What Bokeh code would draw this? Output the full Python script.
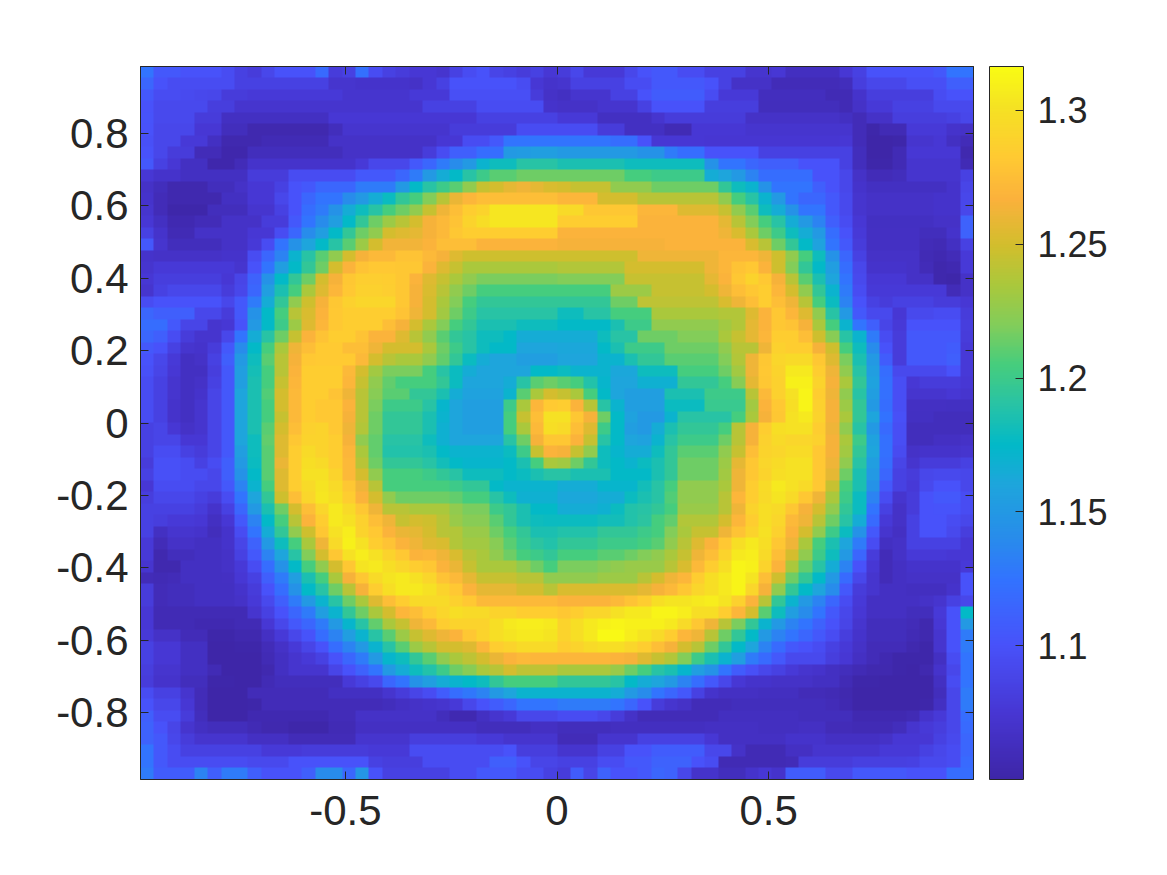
import numpy as np
from bokeh.embed import file_html
from bokeh.resources import INLINE
from bokeh.plotting import figure
from bokeh.models import LinearColorMapper, ColorBar, FixedTicker, LinearAxis, Range1d

# heat values, thousandths above 1.0, top row first
r00 = [125,105,105,100,100,100,95,85,80,90,100,100,100,118,80,85,122,95,85,80,75,75,72,85,95,100,88,85,80,85,75,
       80,90,78,78,78,90,100,105,105,95,95,85,85,85,72,72,75,64,64,64,64,75,85,100,100,100,100,100,105,125,125]
r01 = [115,100,95,95,95,95,95,85,85,85,85,85,85,85,72,72,70,70,70,70,68,75,85,100,100,100,100,100,95,75,70,
       72,85,85,85,85,95,95,105,105,105,105,100,85,68,68,68,60,60,60,60,60,62,82,90,90,90,97,97,97,110,110]
r02 = [105,95,95,93,91,90,80,80,78,78,78,78,78,78,78,72,72,72,72,72,78,78,78,97,97,97,97,97,97,80,68,
       65,72,72,72,85,85,100,108,108,108,108,95,78,78,78,63,63,63,63,63,58,58,70,82,82,82,82,82,95,100,100]
r03 = [100,92,92,92,92,82,82,72,72,72,72,72,72,72,72,72,72,72,72,72,72,85,85,85,85,95,95,95,95,95,70,
       68,68,68,72,72,72,85,100,100,100,100,82,82,82,82,62,62,62,62,62,62,58,68,78,78,85,85,85,92,92,92]
r04 = [102,92,92,92,80,80,65,65,65,65,65,65,65,65,76,76,76,76,76,76,76,76,76,76,76,85,85,85,85,85,85,
       78,78,78,65,65,65,65,72,80,80,80,80,80,80,68,68,68,68,68,68,68,65,60,68,68,82,82,82,82,85,90]
r05 = [100,90,90,90,75,75,62,62,55,55,55,55,55,55,62,72,72,72,72,72,72,72,72,80,80,80,80,80,95,95,95,
       95,95,95,80,80,65,65,65,58,58,75,75,75,75,72,72,72,72,72,72,72,72,60,52,58,58,78,78,78,70,68]
r06 = [98,90,90,78,78,65,55,55,55,58,58,58,58,58,68,68,68,68,68,68,68,68,75,75,95,95,105,125,125,125,125,
       125,125,125,125,120,120,100,75,75,75,75,74,74,74,74,74,74,74,74,74,74,75,60,50,50,52,72,72,75,65,60]
r07 = [100,90,80,80,60,60,53,53,62,62,62,62,62,62,62,68,68,68,68,68,68,80,95,110,110,120,120,150,152,155,155,
       150,150,150,150,150,150,145,145,130,120,120,100,100,100,100,85,85,85,85,85,85,85,62,50,50,58,75,75,75,75,55]
r08 = [105,85,75,65,65,53,53,60,70,70,70,70,70,70,70,70,78,90,90,90,105,115,130,140,150,170,180,180,190,190,190,
       185,185,185,185,185,180,180,180,180,180,180,145,125,125,115,110,110,110,100,100,100,85,62,52,52,58,72,72,72,72,58]
r09 = [75,70,70,65,65,65,65,65,80,80,80,95,95,95,95,95,105,105,105,115,130,150,165,175,190,200,210,210,215,215,215,
       215,215,215,215,215,205,205,200,200,200,200,165,160,150,135,120,120,120,120,100,100,90,68,60,60,62,72,72,72,72,85]
r10 = [68,62,55,55,55,62,62,68,75,75,85,100,105,115,115,115,130,130,130,150,175,190,200,210,225,245,250,258,262,258,252,
       250,245,245,245,225,225,225,215,215,215,215,215,195,180,170,145,125,125,125,110,100,90,70,65,65,65,65,65,65,70,88]
r11 = [70,60,55,55,55,55,65,65,75,75,90,100,115,125,125,140,150,165,178,195,205,220,240,260,270,275,275,275,275,275,275,
       270,270,270,250,250,250,240,240,240,240,240,240,225,205,190,170,150,125,115,115,105,92,72,68,68,68,68,68,70,70,90]
r12 = [72,60,52,52,52,62,62,62,72,72,85,100,120,130,145,165,180,190,205,215,225,245,262,275,285,290,303,303,303,303,303,
       295,295,280,280,280,280,270,270,270,255,255,255,245,225,210,180,165,145,125,125,105,92,72,68,68,68,68,68,70,70,90]
r13 = [75,65,56,56,60,60,68,68,68,80,80,105,125,140,155,175,195,215,230,240,250,265,272,278,290,297,303,303,303,303,303,
       285,285,285,285,285,285,268,268,268,268,268,268,258,240,220,205,190,165,150,135,110,95,75,65,65,65,65,65,68,68,112]
r14 = [85,70,58,58,68,68,68,68,75,75,95,115,140,155,175,195,215,225,250,255,258,265,272,280,285,285,285,285,285,285,285,
       268,268,268,268,268,268,268,268,268,268,268,268,262,252,235,215,200,180,165,150,120,100,78,66,66,66,66,62,62,70,112]
r15 = [105,72,62,62,62,62,68,68,78,95,125,145,160,175,190,210,230,250,263,263,263,268,275,275,275,268,268,268,268,268,268,
       265,265,265,265,265,265,265,265,268,268,268,268,268,268,252,240,215,195,175,158,125,105,80,66,66,66,66,60,58,65,85]
r16 = [70,68,68,68,68,68,70,70,95,115,135,170,190,210,225,250,265,272,272,278,278,272,265,255,248,248,248,248,248,248,248,
       248,248,248,248,248,248,262,262,262,262,262,262,270,270,270,262,248,225,205,180,145,115,85,68,68,68,68,58,56,60,78]
r17 = [72,78,78,78,78,78,78,72,100,125,155,175,195,215,250,268,278,282,282,280,280,268,255,245,235,235,235,235,235,235,235,
       238,238,238,238,238,250,250,250,250,250,250,262,270,278,282,268,248,220,195,175,155,120,90,70,70,70,68,60,54,56,78]
r18 = [75,82,82,82,82,82,75,88,112,145,175,195,215,250,265,280,286,286,285,280,268,255,245,235,225,218,218,218,218,218,218,
       220,220,220,220,220,245,245,245,245,245,245,258,268,280,290,282,265,240,210,185,160,125,92,75,75,75,68,68,54,52,68]
r19 = [72,85,90,90,90,90,80,90,115,155,185,205,235,255,270,282,288,288,286,280,265,252,240,225,215,205,205,205,205,205,205,
       205,205,205,205,230,230,230,245,245,245,245,250,262,275,280,285,270,250,225,195,170,130,95,78,78,78,78,78,78,60,68]
r20 = [95,100,100,100,100,100,90,105,130,165,195,225,248,265,280,288,292,292,292,280,265,250,235,220,205,195,195,195,195,195,195,
       195,195,195,195,215,215,242,242,242,242,242,242,252,262,275,285,275,262,240,205,178,135,100,85,80,85,85,85,80,80,75]
r21 = [115,110,110,110,90,90,80,105,145,175,205,240,252,268,282,285,285,285,285,278,262,250,232,215,200,190,190,190,190,190,190,
       180,180,190,190,205,205,205,235,235,235,235,235,238,238,255,268,280,270,255,225,190,150,105,92,92,75,92,92,95,95,80]
r22 = [120,120,105,88,88,72,75,100,150,175,200,230,255,270,282,285,285,285,275,265,250,235,220,205,195,185,185,185,180,180,180,
       175,175,175,175,185,200,200,225,225,225,225,225,232,238,258,268,280,278,265,235,205,170,125,110,88,78,100,100,100,100,82]
r23 = [115,110,95,80,72,72,90,125,165,190,215,245,268,278,285,285,278,268,268,255,240,225,210,195,190,180,180,175,165,165,165,
       165,165,165,180,190,190,215,215,215,220,220,220,235,245,258,270,285,285,275,248,222,190,170,130,95,80,105,105,105,105,80]
r24 = [105,100,85,72,70,80,105,140,175,205,235,262,275,283,283,275,275,262,250,250,250,235,215,200,190,180,175,175,160,160,160,
       162,162,162,175,185,200,200,200,215,215,215,215,225,240,240,262,288,285,285,265,248,205,180,140,100,80,105,105,105,108,78]
r25 = [100,90,78,65,68,85,110,150,180,210,240,265,282,283,283,283,272,250,240,235,235,225,212,195,178,165,160,160,155,155,155,
       160,160,160,170,170,185,195,195,210,210,210,210,220,238,262,280,292,295,295,280,255,218,185,150,108,80,105,105,105,110,78]
r26 = [98,88,75,65,65,82,105,155,183,205,240,268,285,285,285,272,250,232,218,218,218,205,190,178,165,160,160,160,160,175,175,
       178,170,170,170,162,162,180,180,180,205,205,205,215,232,262,282,290,305,305,285,262,225,190,155,120,92,92,92,92,100,78]
r27 = [95,85,72,65,68,85,105,155,185,205,245,270,285,285,285,270,245,225,212,205,205,205,195,178,160,160,160,165,190,210,215,
       210,205,188,172,160,160,168,168,168,195,195,195,205,222,258,280,288,310,310,290,265,235,195,158,122,96,75,80,80,80,75]
r28 = [95,85,72,65,70,88,105,160,185,208,250,272,285,285,278,262,240,222,210,210,195,195,185,165,158,158,158,170,210,235,250,
       245,235,205,175,160,155,155,155,185,185,185,200,200,200,240,272,288,300,312,285,262,225,190,155,122,96,72,72,72,75,72]
r29 = [95,85,70,65,72,88,105,160,185,205,250,272,285,282,282,268,240,218,200,200,200,190,172,160,155,155,155,200,235,270,283,
       285,268,240,190,170,155,155,155,178,178,178,198,198,198,232,268,282,298,312,288,265,230,195,150,120,96,66,66,66,65,65]
r30 = [95,85,70,65,72,88,105,160,185,205,245,272,285,282,282,265,240,215,195,195,195,185,170,160,155,155,155,205,245,275,300,
       300,280,265,215,175,158,150,150,170,190,190,190,190,205,235,265,280,300,305,290,265,235,195,160,124,98,65,65,62,62,62]
r31 = [85,88,75,68,72,88,105,160,185,210,250,275,288,290,282,262,238,215,195,195,195,185,168,160,155,155,155,205,235,272,298,
       295,275,255,200,175,155,150,165,185,195,195,195,205,240,265,285,298,300,300,285,262,225,190,150,118,96,62,62,62,62,62]
r32 = [85,88,88,75,75,88,105,160,180,212,255,280,290,290,285,265,225,212,190,190,190,180,168,160,160,160,160,190,215,265,280,
       280,268,245,190,175,160,158,170,190,200,200,200,215,240,265,288,295,292,292,288,265,235,200,158,122,96,62,62,66,66,68]
r33 = [85,95,95,85,80,88,105,155,180,210,255,285,295,290,285,270,235,212,188,188,188,185,175,170,170,170,170,178,200,245,268,
       265,245,225,180,172,165,165,180,195,210,210,210,225,245,275,290,292,296,296,282,265,232,195,160,122,94,68,70,70,70,72]
r34 = [80,98,98,95,85,95,110,150,178,210,260,285,298,295,285,272,240,215,195,195,195,190,182,175,172,172,172,175,185,205,235,
       232,215,195,180,175,170,178,185,195,215,215,215,230,258,280,292,296,300,300,282,262,225,190,155,120,88,72,80,80,80,85]
r35 = [85,98,98,95,95,90,110,145,175,210,255,285,300,300,290,272,250,225,205,205,205,200,195,190,180,180,180,175,178,185,190,
       190,185,185,185,175,175,175,185,195,215,215,215,232,262,280,290,298,300,300,282,258,215,185,150,115,85,80,90,92,92,90]
r36 = [75,95,95,95,90,90,105,135,170,205,255,285,295,302,295,280,262,240,205,205,205,205,205,200,195,195,175,170,170,170,170,
       165,165,165,172,172,172,182,190,205,225,225,225,235,262,285,296,305,300,295,282,245,205,185,145,105,85,78,92,100,100,90]
r37 = [82,90,90,90,85,80,95,125,160,195,248,275,292,303,298,285,268,250,225,215,215,215,215,212,205,205,190,180,168,168,168,
       162,162,162,165,165,178,185,190,208,225,225,225,240,270,285,295,302,295,280,262,235,200,178,135,95,72,80,100,105,105,95]
r38 = [85,85,85,85,80,70,85,115,150,185,215,250,275,292,305,295,280,262,240,240,235,235,235,225,218,218,200,195,185,175,175,
       165,165,165,168,178,188,190,195,205,228,228,228,240,262,290,298,295,280,265,250,225,195,178,125,85,68,80,100,102,102,95]
r39 = [85,82,78,78,75,65,75,105,135,175,205,240,268,285,305,300,288,275,262,245,250,248,240,228,222,222,210,195,185,180,178,
       178,178,178,182,182,188,192,205,212,238,238,238,250,270,285,298,292,272,262,240,215,190,165,118,78,68,85,100,100,95,90]
r40 = [85,65,72,72,70,62,70,95,125,165,195,225,248,280,300,308,290,282,268,260,258,250,240,238,228,228,215,205,195,185,185,
       188,188,188,195,195,195,200,205,220,235,245,245,262,278,290,300,288,268,250,225,200,178,145,105,72,66,85,100,100,92,82]
r41 = [78,60,68,68,65,65,70,88,112,150,180,205,235,262,295,310,300,285,278,268,262,255,252,238,232,232,222,210,198,192,188,
       195,195,195,200,200,200,205,210,225,240,255,268,282,298,305,298,280,262,235,205,185,160,130,95,65,68,85,85,85,85,75]
r42 = [78,55,62,62,65,65,68,85,105,135,160,190,220,250,280,300,308,300,290,282,268,270,262,252,240,235,225,215,205,200,195,
       205,205,205,210,210,215,220,225,235,245,262,275,290,305,308,295,275,250,225,200,180,150,115,80,60,68,78,78,78,75,75]
r43 = [72,55,55,65,65,65,68,78,95,120,145,175,205,225,250,280,302,305,298,292,285,280,268,260,245,235,235,235,225,215,205,
       218,218,218,222,225,228,228,228,240,252,272,285,298,312,310,290,268,235,212,190,165,135,100,75,60,66,70,70,70,70,78]
r44 = [60,58,60,65,65,65,66,75,85,110,130,155,185,205,235,265,280,295,302,305,300,292,278,272,258,245,245,245,240,240,225,
       225,225,225,230,230,230,240,250,262,270,285,298,305,312,302,275,248,215,195,175,150,118,90,72,60,66,68,68,68,68,100]
r45 = [80,60,62,62,65,65,65,70,80,100,120,145,175,190,215,240,265,285,298,305,305,300,290,282,268,258,258,258,250,250,240,
       252,252,252,252,252,252,258,265,272,280,292,298,305,312,292,265,225,195,175,160,140,105,80,72,66,66,64,64,64,70,100]
r46 = [80,60,62,62,65,65,65,68,78,92,110,130,150,170,190,215,235,255,275,285,295,295,295,288,282,272,272,272,272,272,272,
       268,268,268,268,272,278,285,298,302,302,305,308,302,288,268,240,195,170,150,135,115,95,78,66,66,66,66,68,72,85,90]
r47 = [75,58,58,58,58,58,58,58,72,85,100,115,130,155,170,195,215,235,250,270,275,285,292,298,295,295,290,290,285,285,285,
       280,285,292,292,300,305,305,312,312,308,298,298,285,270,250,210,180,155,140,125,105,90,75,66,66,66,62,62,78,100,175]
r48 = [75,58,58,58,56,56,56,58,58,75,90,105,115,130,150,172,190,212,235,245,262,272,285,290,290,290,298,305,308,308,305,
       290,298,305,310,312,310,310,310,305,295,280,262,240,218,195,170,150,135,125,112,100,88,72,62,62,62,60,55,75,100,150]
r49 = [78,68,68,60,60,52,52,55,55,66,78,90,102,120,135,155,170,190,210,230,245,255,262,268,280,290,298,302,305,305,302,
       290,298,305,315,315,308,302,295,285,270,262,240,215,195,175,150,135,125,115,105,95,82,70,62,62,62,58,55,72,100,130]
r50 = [85,75,75,65,65,50,50,52,52,60,68,78,88,100,120,135,150,170,190,210,230,240,250,250,255,270,285,290,295,295,295,
       285,290,295,298,298,292,285,275,265,250,240,215,195,175,160,135,118,105,100,95,85,78,68,60,60,60,55,52,72,100,130]
r51 = [85,75,75,65,65,48,48,50,50,58,65,72,78,85,100,115,130,150,172,180,195,210,225,235,242,250,260,268,272,270,270,
       270,270,270,270,268,265,255,245,238,220,200,185,170,155,130,118,105,92,92,92,82,75,66,60,56,52,52,52,65,95,125]
r52 = [82,72,72,65,65,58,48,50,50,55,65,72,72,72,88,100,112,125,150,165,180,188,200,215,222,235,240,250,242,242,242,
       235,235,235,235,228,215,205,190,185,172,155,145,125,108,98,90,85,78,72,70,65,62,58,55,55,52,50,55,70,90,125]
r53 = [80,70,70,62,62,52,52,50,50,58,62,62,62,62,62,78,85,92,115,125,145,155,165,170,175,180,195,205,205,205,205,
       195,195,195,195,190,175,165,160,150,135,120,105,90,75,70,70,68,68,68,65,65,58,52,52,50,46,46,50,65,95,125]
r54 = [95,85,85,72,60,50,50,50,60,60,60,60,60,60,65,65,65,65,72,80,88,95,108,120,128,135,150,160,170,170,170,
       170,170,170,170,165,150,140,125,115,105,85,70,66,66,66,64,64,64,60,60,58,55,48,48,44,44,44,48,62,90,130]
r55 = [100,90,90,75,60,48,48,48,52,60,60,60,60,60,60,60,60,60,62,66,68,70,72,78,90,100,108,115,125,125,125,
       130,130,130,130,125,115,100,80,72,68,60,60,60,62,62,62,62,62,62,62,60,56,48,48,48,48,46,52,65,90,130]
r56 = [110,95,95,80,62,50,50,50,56,56,56,56,56,56,60,60,68,68,68,68,68,68,62,56,56,65,72,78,90,90,90,
       95,95,95,90,80,68,60,60,60,60,60,60,64,64,64,64,64,64,62,62,62,62,56,56,56,56,58,70,78,90,120]
r57 = [112,100,88,72,65,62,62,62,58,55,55,52,52,52,58,58,66,66,66,66,66,66,66,66,66,62,62,62,62,66,66,
       62,62,62,62,64,64,64,64,64,64,64,66,66,66,66,64,64,64,66,66,60,60,58,58,58,62,72,78,82,90,118]
r58 = [112,105,90,80,72,72,72,72,66,66,66,60,60,60,60,60,72,72,72,72,82,82,82,82,82,78,78,72,72,72,72,
       60,60,60,72,72,72,85,85,85,85,85,75,66,66,66,66,66,70,70,70,66,66,66,66,68,75,75,75,85,92,115]
r59 = [125,105,95,85,85,85,85,85,85,78,78,78,80,80,80,80,80,78,78,78,95,95,95,95,95,95,95,100,82,82,82,
       72,72,72,85,85,100,100,108,108,108,108,90,90,68,58,58,58,66,66,72,72,72,72,72,78,78,78,85,90,95,115]
r60 = [125,105,95,95,95,95,95,95,92,92,92,100,100,100,100,100,100,85,82,82,82,95,95,95,95,95,110,110,100,88,88,
       85,85,85,95,95,105,105,112,112,112,100,95,58,58,58,58,58,60,80,80,80,80,84,84,84,84,85,92,92,95,118]
r61 = [130,108,108,108,135,110,130,130,110,100,100,100,110,140,140,115,148,100,85,85,85,85,85,95,95,105,105,105,95,95,85,
       80,108,88,112,100,100,105,115,112,90,70,70,62,62,70,75,70,108,108,108,92,92,105,105,105,105,100,100,100,120,120]

rows = [r00,r01,r02,r03,r04,r05,r06,r07,r08,r09,r10,r11,r12,r13,r14,r15,r16,r17,r18,r19,r20,
        r21,r22,r23,r24,r25,r26,r27,r28,r29,r30,r31,r32,r33,r34,r35,r36,r37,r38,r39,r40,
        r41,r42,r43,r44,r45,r46,r47,r48,r49,r50,r51,r52,r53,r54,r55,r56,r57,r58,r59,r60,r61]

x_ticks = [-0.5, 0, 0.5]
x_labels = ["-0.5", "0", "0.5"]
y_ticks = [-0.8, -0.6, -0.4, -0.2, 0, 0.2, 0.4, 0.6, 0.8]
y_labels = ["-0.8", "-0.6", "-0.4", "-0.2", "0", "0.2", "0.4", "0.6", "0.8"]
bar_ticks = [1.1, 1.15, 1.2, 1.25, 1.3]
bar_labels = ["1.1", "1.15", "1.2", "1.25", "1.3"]
c_min, c_max = 1.05, 1.3164
half_span = 0.984

# a row that came out a cell short or long is evened at its end
fixed = [(list(r) + [r[-1]] * 62)[:62] for r in rows]
z = 1.0 + np.array(fixed, dtype=float)[::-1] / 1000.0

anchors = [(0.00,(62,38,168)),(0.09,(71,54,210)),(0.188,(72,82,250)),(0.28,(50,115,255)),(0.338,(40,140,235)),
           (0.413,(30,165,220)),(0.469,(2,185,200)),(0.526,(40,195,165)),(0.582,(70,205,125)),(0.638,(130,205,90)),
           (0.694,(170,200,60)),(0.75,(210,190,45)),(0.815,(251,177,60)),(0.875,(255,202,50)),(0.945,(245,226,35)),(1.00,(249,251,20))]
stops = [a[0] for a in anchors]
palette = []
for t in np.linspace(0, 1, 256):
    rgb = [int(round(np.interp(t, stops, [a[1][k] for a in anchors]))) for k in range(3)]
    palette.append("#%02x%02x%02x" % tuple(rgb))

mapper = LinearColorMapper(palette=palette, low=c_min, high=c_max)
FONT = "Liberation Sans"
DARK = "#262626"

p = figure(width=1150, height=860, output_backend="svg", toolbar_location=None,
           x_range=Range1d(-half_span, half_span), y_range=Range1d(-half_span, half_span),
           tools="", frame_width=833, frame_height=713,
           min_border_left=140, min_border_top=66, min_border_bottom=85, min_border_right=0)
p.grid.visible = False
p.outline_line_color = DARK
p.outline_line_width = 1
p.image(image=[z], x=-half_span, y=-half_span, dw=2 * half_span, dh=2 * half_span, color_mapper=mapper)


def style(ax, ticks, labels):
    ax.ticker = FixedTicker(ticks=ticks)
    ax.major_label_overrides = {t: l for t, l in zip(ticks, labels)}
    ax.minor_tick_line_color = None
    ax.major_tick_in = 8
    ax.major_tick_out = 0
    ax.major_tick_line_color = DARK
    ax.axis_line_color = DARK
    ax.major_label_text_font = FONT
    ax.major_label_text_font_size = "42px"
    ax.major_label_text_color = DARK


style(p.xaxis[0], x_ticks, x_labels)
style(p.yaxis[0], y_ticks, y_labels)
p.xaxis[0].major_label_standoff = 16
p.yaxis[0].major_label_standoff = 12

top = LinearAxis()
right = LinearAxis()
for ax, t in ((top, x_ticks), (right, y_ticks)):
    style(ax, t, ["" for _ in t])
    ax.major_label_text_font_size = "0px"
    ax.major_label_standoff = 0
p.add_layout(top, "above")
p.add_layout(right, "right")

bar = ColorBar(color_mapper=mapper, width=34, height=713, location=(16, 0), padding=0,
               ticker=FixedTicker(ticks=bar_ticks),
               major_label_overrides={t: l for t, l in zip(bar_ticks, bar_labels)},
               major_tick_in=8, major_tick_line_color=DARK, minor_tick_line_color=None,
               bar_line_color=DARK, border_line_color=None, background_fill_color=None,
               major_label_text_font=FONT, major_label_text_font_size="36px",
               major_label_text_color=DARK, label_standoff=14)
p.add_layout(bar, "right")

open("out.html", "w").write(file_html(p, INLINE))
